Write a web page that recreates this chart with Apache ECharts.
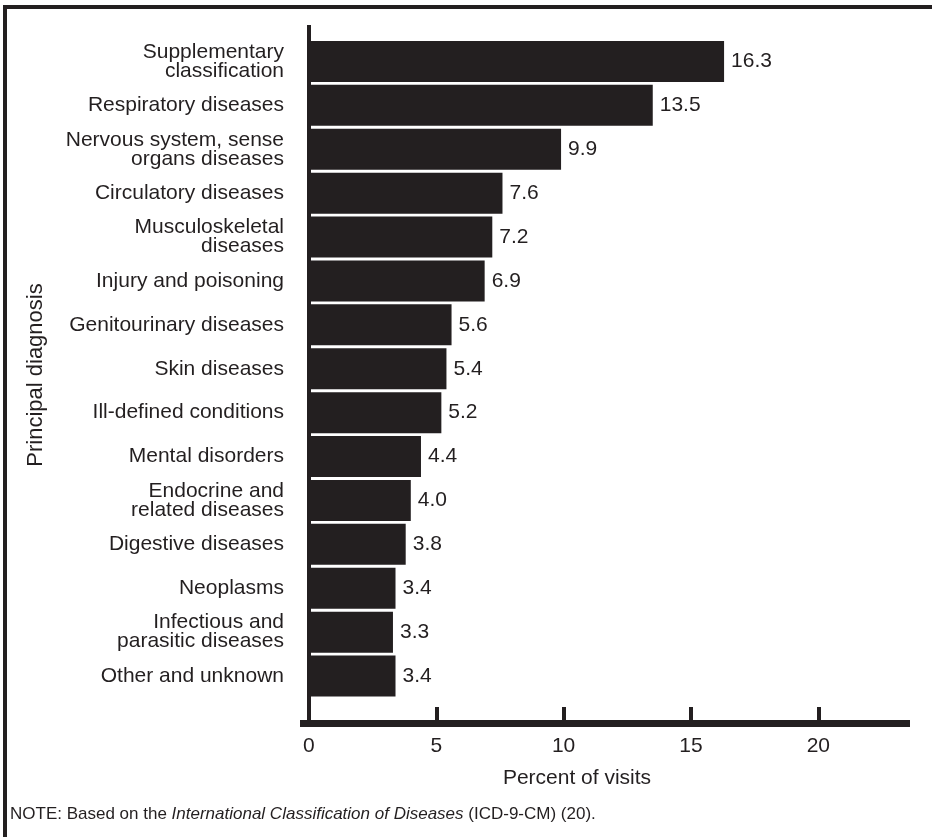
<!DOCTYPE html>
<html>
<head>
<meta charset="utf-8">
<script src="https://cdn.jsdelivr.net/npm/echarts@6/dist/echarts.min.js"></script>
<style>
html,body{margin:0;padding:0;background:#fff;}
#chart{width:932px;height:837px;}
</style>
</head>
<body>
<div id="chart"></div>
<script>
const categories = [
  "Supplementary\nclassification",
  "Respiratory diseases",
  "Nervous system, sense\norgans diseases",
  "Circulatory diseases",
  "Musculoskeletal\ndiseases",
  "Injury and poisoning",
  "Genitourinary diseases",
  "Skin diseases",
  "Ill-defined conditions",
  "Mental disorders",
  "Endocrine and\nrelated diseases",
  "Digestive diseases",
  "Neoplasms",
  "Infectious and\nparasitic diseases",
  "Other and unknown"
];
const percentOfVisits = [16.3, 13.5, 9.9, 7.6, 7.2, 6.9, 5.6, 5.4, 5.2, 4.4, 4.0, 3.8, 3.4, 3.3, 3.4];
const xTickValues = [0, 5, 10, 15, 20];
const xAxisTitle = "Percent of visits";
const yAxisTitle = "Principal diagnosis";
const noteParts = ["NOTE: Based on the ", "International Classification of Diseases", " (ICD-9-CM) (20)."];

const INK = '#231f20';
const FONT = "'Liberation Sans', Arial, Helvetica, sans-serif";
const X_MIN = -0.35, X_MAX = 23.6;

const chart = echarts.init(document.getElementById('chart'));
chart.setOption({
  animation: false,
  backgroundColor: '#fff',
  textStyle: { fontFamily: FONT, color: INK },
  grid: [
    { left: 300, right: 22, top: 39.5, height: 658.5 },
    { left: 300, right: 22, top: 25, bottom: 114 }
  ],
  xAxis: [
    { type: 'value', gridIndex: 0, min: X_MIN, max: X_MAX, show: false },
    {
      type: 'value', gridIndex: 1, min: X_MIN, max: X_MAX,
      axisLine: { show: true, onZero: false, lineStyle: { color: INK, width: 7, cap: 'butt' } },
      axisTick: { show: true, inside: true, length: 16, customValues: xTickValues, lineStyle: { color: INK, width: 4, cap: 'butt' } },
      axisLabel: { show: true, customValues: xTickValues, margin: 13, fontSize: 21, color: INK, fontFamily: FONT },
      splitLine: { show: false }
    }
  ],
  yAxis: [
    {
      type: 'category', gridIndex: 0, data: categories, inverse: true,
      axisLine: { show: false, onZero: false },
      axisTick: { show: false },
      axisLabel: { margin: 16, fontSize: 21, lineHeight: 19, color: INK, fontFamily: FONT, align: 'right' }
    },
    {
      type: 'value', gridIndex: 1, min: 0, max: 1,
      axisLine: { show: true, onZero: true, lineStyle: { color: INK, width: 4, cap: 'butt' } },
      axisTick: { show: false }, axisLabel: { show: false }, splitLine: { show: false }
    }
  ],
  title: {
    text: xAxisTitle, left: 572, top: 763, textAlign: 'center',
    textStyle: { fontSize: 21, fontWeight: 'normal', color: INK, fontFamily: FONT }
  },
  series: [{
    type: 'bar', xAxisIndex: 0, yAxisIndex: 0,
    data: percentOfVisits, barWidth: 41,
    itemStyle: { color: INK },
    label: {
      show: true, position: 'right', distance: 7, fontSize: 21, color: INK, fontFamily: FONT,
      formatter: p => p.value.toFixed(1)
    }
  }],
  graphic: [
    { type: 'line', shape: { x1: 3, y1: 7, x2: 932, y2: 7 }, style: { stroke: INK, lineWidth: 4 } },
    { type: 'line', shape: { x1: 5, y1: 5, x2: 5, y2: 837 }, style: { stroke: INK, lineWidth: 4 } },
    {
      type: 'text', x: 36, y: 375, rotation: Math.PI / 2,
      style: { text: yAxisTitle, fontSize: 22, fontFamily: FONT, fill: INK, align: 'center', verticalAlign: 'middle' }
    },
    {
      type: 'text', x: 10, y: 814,
      style: {
        text: '{n|' + noteParts[0] + '}{i|' + noteParts[1] + '}{n|' + noteParts[2] + '}',
        verticalAlign: 'middle',
        rich: {
          n: { fontSize: 17, fontFamily: FONT, fill: INK },
          i: { fontSize: 17, fontFamily: FONT, fill: INK, fontStyle: 'italic' }
        }
      }
    }
  ]
});
</script>
</body>
</html>
